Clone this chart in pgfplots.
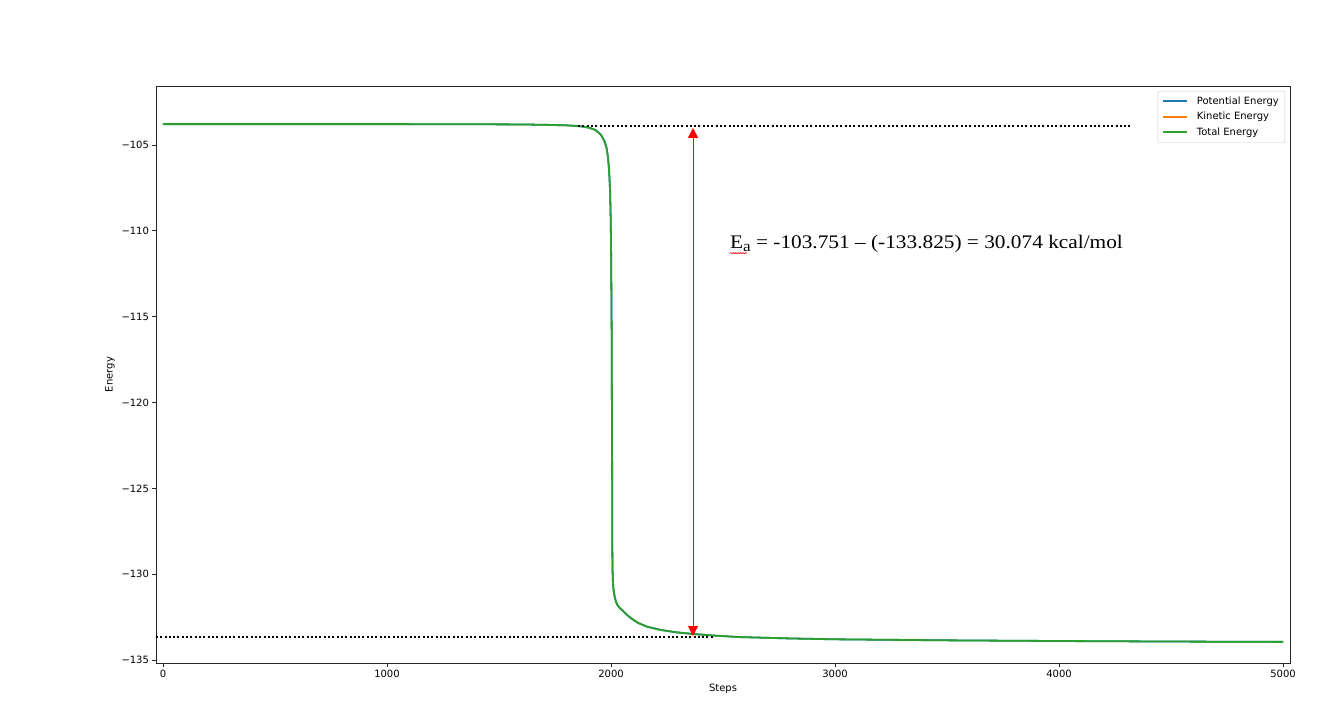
\documentclass[border=0pt]{standalone}
\usepackage{fontspec}
\setmainfont{DejaVu Sans}
\newfontfamily\serif{Liberation Serif}
\usepackage{pgfplots}
\usepackage{pgfplotstable}
\pgfplotsset{compat=1.18}
\usetikzlibrary{decorations.pathmorphing, arrows.meta}
\definecolor{tabblue}{HTML}{1F77B4}
\definecolor{taborange}{HTML}{FF7F0E}
\definecolor{tabgreen}{HTML}{2CA02C}
\pgfplotstableread{
step energy
0 -103.78
500 -103.78
1000 -103.78
1400 -103.79
1600 -103.80
1700 -103.82
1800 -103.85
1860 -103.90
1900 -103.98
1930 -104.12
1955 -104.40
1970 -104.75
1980 -105.15
1987 -105.75
1992 -106.6
1996 -107.7
1999 -109.5
2001 -112.0
2003 -116.0
2005 -124.0
2006 -128.8
2007 -129.8
2008 -130.3
2010 -130.75
2013 -131.05
2017 -131.35
2022 -131.6
2030 -131.82
2040 -131.98
2055 -132.15
2070 -132.35
2090 -132.57
2120 -132.83
2160 -133.05
2220 -133.24
2290 -133.38
2366 -133.48
2470 -133.58
2576 -133.66
2800 -133.74
3000 -133.79
3500 -133.85
4000 -133.89
4500 -133.92
5000 -133.94
}\energydata
\begin{document}
\begin{tikzpicture}
\path[use as bounding box] (-156pt,-57pt) rectangle (1181pt,663pt);
\begin{axis}[
  at={(0pt,0pt)}, anchor=south west,
  scale only axis, width=1134pt, height=577pt,
  xmin=-31, xmax=5031, ymin=-135.17, ymax=-101.56,
  xtick={0,1000,2000,3000,4000,5000},
  xticklabels={0,1000,2000,3000,4000,5000},
  ytick={-135,-130,-125,-120,-115,-110,-105},
  yticklabels={−135,−130,−125,−120,−115,−110,−105},
  tick align=outside, tick pos=left, major tick length=3.5pt,
  tick style={black!85, line width=0.8pt},
  axis line style={black!85, line width=0.8pt},
  ticklabel style={font=\fontsize{10}{12}\selectfont},
  xlabel={Steps}, ylabel={Energy},
  label style={font=\fontsize{10}{12}\selectfont},
  xlabel style={at={(axis description cs:0.5,0)}, anchor=center, yshift=-26pt},
  ylabel style={at={(axis description cs:0,0.5)}, anchor=center, rotate=0, yshift=46pt},
  legend style={at={(1,1)}, anchor=north east, xshift=-5pt, yshift=-5pt,
    draw=black!20, rounded corners=2pt, font=\fontsize{10}{12}\selectfont,
    inner xsep=4.5pt, inner ysep=4pt, row sep=3.5pt, column sep=7pt,
    nodes={inner sep=1.5pt}, cells={anchor=west}},
  legend image code/.code={\draw[mark repeat=2,mark phase=2,#1] plot coordinates {(0pt,0pt) (12pt,0pt) (24pt,0pt)};},
  clip=false,
]
\addplot[tabblue, line width=1.8pt, forget plot] table[x=step, y=energy] {\energydata};
\addlegendimage{color=tabblue, line width=1.7pt}
\addlegendentry{Potential Energy}
\addlegendimage{color=taborange, line width=1.7pt}
\addlegendentry{Kinetic Energy}
\addlegendimage{color=tabgreen, line width=2pt}
\addlegendentry{Total Energy}
\addplot[tabgreen, line width=1.8pt, forget plot] table[x=step, y=energy] {\energydata};
\addplot[black, line width=2pt, dash pattern=on 2pt off 2.3pt, forget plot] coordinates {(1853,-103.88) (4317,-103.88)};
\addplot[black, line width=2pt, dash pattern=on 2pt off 2.3pt, forget plot] coordinates {(-31,-133.68) (2455,-133.68)};
\draw[red, line width=0.8pt, {Triangle[width=10pt,length=10pt]}-{Triangle[width=10pt,length=10pt]}]
  (axis cs:2366,-104.0) -- (axis cs:2366,-133.6);
\node[anchor=base west, inner sep=0pt, font=\serif\fontsize{19.2}{21}\selectfont]
  at (axis cs:2531,-111.0) {\scalebox{1.11}[1]{E\raisebox{-0.18em}{\scalebox{0.8}{a}} = -103.751 – (-133.825) = 30.074 kcal/mol}};
\draw[red, line width=0.6pt, decorate, decoration={snake, amplitude=0.6pt, segment length=2.5pt}]
  (axis cs:2531,-111.3) -- (axis cs:2606,-111.3);
\end{axis}
\end{tikzpicture}
\end{document}
